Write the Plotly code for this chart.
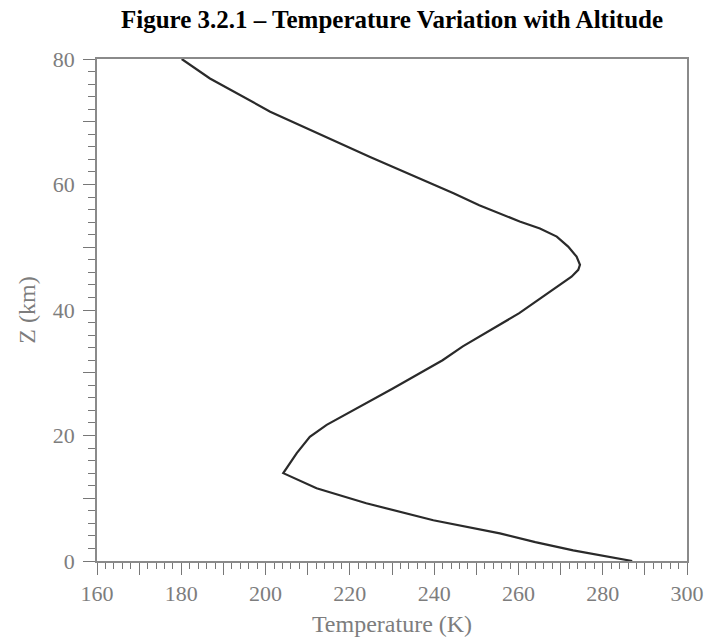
import plotly.graph_objects as go

# Temperature profile
temperature_k = [287.0, 282.0, 273.0, 264.0, 255.6, 239.8, 223.9, 212.1, 204.2,
                 207.4, 210.5, 214.5, 230.2, 242.0, 246.8, 260.2, 265.9, 269.9,
                 272.6, 274.2, 274.6, 273.8, 271.8, 269.1, 265.1, 260.3, 250.7,
                 244.6, 237.4, 224.8, 201.1, 186.8, 180.1]
altitude_km = [0.0, 0.6, 1.7, 3.0, 4.4, 6.5, 9.2, 11.6, 14.0,
               17.2, 19.8, 21.7, 27.5, 32.0, 34.2, 39.5, 42.1, 44.0,
               45.3, 46.4, 47.2, 48.5, 50.1, 51.7, 53.0, 54.1, 56.7,
               58.6, 60.7, 64.4, 71.6, 76.9, 80.0]

x_tick_vals = list(range(160, 301, 10))
x_tick_text = [str(v) if v % 20 == 0 else "" for v in x_tick_vals]
y_tick_vals = list(range(0, 81, 10))
y_tick_text = [str(v) if v % 20 == 0 else "" for v in y_tick_vals]

axis_grey = "#777777"
frame_grey = "#8a8a8a"
label_grey = "#7d7d7d"
serif = "Liberation Serif, Times New Roman, serif"

fig = go.Figure()
fig.add_trace(go.Scatter(x=temperature_k, y=altitude_km, mode="lines",
                         line=dict(color="#2a2a2a", width=2.2),
                         showlegend=False, hoverinfo="skip"))

fig.update_layout(
    width=709, height=640,
    margin=dict(l=97, r=22, t=59, b=79),
    paper_bgcolor="white", plot_bgcolor="white",
    title=dict(text="<b>Figure 3.2.1 – Temperature Variation with Altitude</b>",
               x=0.5, xref="paper", y=0.970, yanchor="middle",
               font=dict(family=serif, size=25, color="black")),
)
fig.update_xaxes(
    range=[160, 300], tickmode="array", tickvals=x_tick_vals, ticktext=x_tick_text,
    ticks="outside", ticklen=12, tickwidth=1.4, tickcolor=axis_grey,
    showline=True, linecolor=frame_grey, linewidth=1.5, mirror=True,
    showgrid=False, zeroline=False, automargin=False,
    minor=dict(dtick=2, ticks="outside", ticklen=6, tickwidth=1.2, tickcolor=axis_grey, showgrid=False),
    tickfont=dict(family=serif, size=22, color=label_grey),
    title=dict(text="Temperature (K)", standoff=10,
               font=dict(family=serif, size=24, color=label_grey)),
)
fig.update_yaxes(
    range=[0, 80], tickmode="array", tickvals=y_tick_vals, ticktext=y_tick_text,
    ticks="outside", ticklen=12, tickwidth=1.4, tickcolor=axis_grey,
    showline=True, linecolor=frame_grey, linewidth=1.5, mirror=True,
    showgrid=False, zeroline=False, automargin=False,
    minor=dict(dtick=2, ticks="outside", ticklen=7, tickwidth=1.2, tickcolor=axis_grey, showgrid=False),
    tickfont=dict(family=serif, size=22, color=label_grey),
    ticklabelstandoff=4,
    title=dict(text="Z (km)", standoff=10,
               font=dict(family=serif, size=24, color=label_grey)),
)

fig.write_html("out.html")
